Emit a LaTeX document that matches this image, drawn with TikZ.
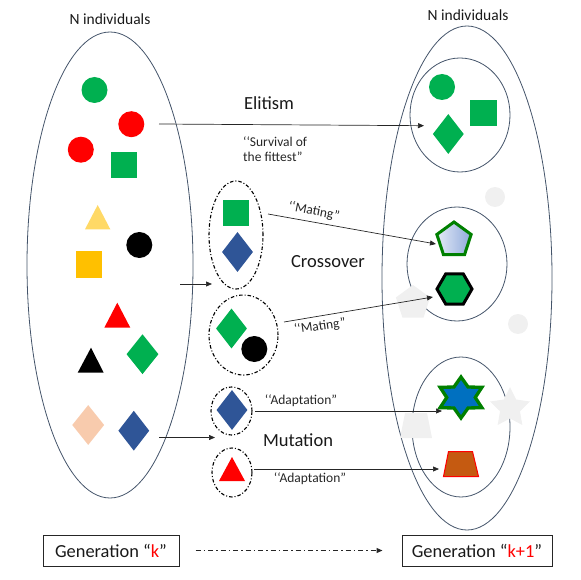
\documentclass[tikz,border=0pt]{standalone}
\usepackage{fontspec}
\setmainfont{Carlito}
\usetikzlibrary{shapes.geometric,arrows.meta}
\definecolor{elc}{HTML}{44546A}
\definecolor{grn}{HTML}{00B050}
\definecolor{dgrn}{HTML}{008000}
\definecolor{bdia}{HTML}{2F5597}
\definecolor{peach}{HTML}{F8CBAD}
\definecolor{yel}{HTML}{FFD966}
\definecolor{ora}{HTML}{FFC000}
\definecolor{ghost}{HTML}{F0F0F0}
\definecolor{sblue}{HTML}{0070C0}
\definecolor{brn}{HTML}{C55A11}
\definecolor{pl}{HTML}{E4EAF6}
\definecolor{pr}{HTML}{8FAADC}
\begin{document}
\begin{tikzpicture}[x=1pt,y=-1pt,
  popell/.style={ellipse, draw=elc, line width=0.8, inner sep=0},
  grp/.style={ellipse, draw=black, line width=1.1, dash pattern=on 3.5pt off 2pt on 1pt off 2pt, inner sep=0},
  circ/.style={circle, inner sep=0, minimum size=26},
  sq/.style={rectangle, inner sep=0, minimum size=26},
  dia/.style={diamond, inner sep=0, minimum width=32, minimum height=40},
  conn/.style={draw=black!85, line width=0.7, -{Triangle[length=6pt,width=5pt]}},
  lab/.style={font=\fontsize{13.5}{14.5}\selectfont, text=black!85, inner sep=0},
  big/.style={font=\fontsize{18.5}{20}\selectfont, text=black!90, inner sep=0},
  hdr/.style={font=\fontsize{15.5}{17}\selectfont, text=black!90, inner sep=0},
  genbox/.style={draw=black!85, line width=1, minimum height=31, inner sep=0, font=\fontsize{18.4}{20}\selectfont, text=black!90},
  genarrow/.style={draw=black!85, line width=1.2, dash pattern=on 5pt off 3pt on 1.5pt off 3pt, -{Triangle[length=6pt,width=5pt]}}
]
\useasboundingbox (0,0) rectangle (581,580);

% population ellipses
\node[popell, minimum width=166, minimum height=466] (popk) at (110,265) {};
\node[popell, minimum width=170, minimum height=504] (popk1) at (467,278) {};
\node[popell, minimum width=100, minimum height=114] (elite) at (460,115) {};
\node[popell, minimum width=100, minimum height=114] (cross) at (457,264) {};
\node[popell, minimum width=98, minimum height=140] (mut) at (461,427) {};

\node[hdr] (hk) at (110,19) {N individuals};
\node[hdr] (hk1) at (468,15) {N individuals};

% left population shapes
\node[circ, fill=grn] (l1) at (94.5,90) {};
\node[circ, fill=red] (l2) at (131.3,124.2) {};
\node[circ, fill=red] (l3) at (80.8,149.7) {};
\node[sq, fill=grn] (l4) at (123.8,164.7) {};
\fill[yel] (85,229.3) -- (97.7,205) -- (110.3,229.3) -- cycle;
\node[circ, fill=black] (l5) at (139.3,245) {};
\node[sq, fill=ora] (l6) at (88.5,264.5) {};
\fill[red] (104.3,327.7) -- (117.3,302.7) -- (130.3,327.7) -- cycle;
\fill[black] (77.7,372.7) -- (91,347.7) -- (103.7,372.7) -- cycle;
\node[dia, fill=grn] (l7) at (142.5,354.2) {};
\node[dia, fill=peach] (l8) at (88.2,425) {};
\node[dia, fill=bdia, minimum width=31] (l9) at (133.8,430.7) {};

% selected groups
\node[grp, minimum width=54, minimum height=108] (g1) at (236,235) {};
\node[grp, minimum width=69, minimum height=80] (g2) at (243.5,335) {};
\node[grp, minimum width=41, minimum height=48] (g3) at (231.5,411) {};
\node[grp, minimum width=40, minimum height=49] (g4) at (232,472.5) {};
\node[sq, fill=grn] (s1) at (236,213.5) {};
\node[dia, fill=bdia, minimum width=31] (s2) at (237.5,252) {};
\node[dia, fill=grn, minimum width=31] (s3) at (231.5,328.5) {};
\node[circ, fill=black] (s4) at (254.3,349) {};
\node[dia, fill=bdia, minimum width=31] (s5) at (232,410) {};
\fill[red] (219,481) -- (232,457) -- (245,481) -- cycle;

% ghost shapes in next generation
\node[circ, fill=ghost, minimum size=20] (x1) at (495,197) {};
\node[circ, fill=ghost, minimum size=20] (x2) at (518,324) {};
\node[regular polygon, regular polygon sides=5, minimum size=36, inner sep=0, fill=ghost] (x3) at (413,303) {};
\node[star, star points=5, star point ratio=2, minimum size=42, inner sep=0, fill=ghost] (x4) at (510,408) {};
\fill[ghost] (400,438) -- (405,413) -- (427,413) -- (432,438) -- cycle;

% next generation shapes
\node[circ, fill=grn] (e1) at (442,87) {};
\node[sq, fill=grn, minimum size=26.5] (e2) at (483.3,112.8) {};
\node[dia, fill=grn, minimum width=31] (e3) at (448.3,134) {};
\node[regular polygon, regular polygon sides=5, minimum size=36, inner sep=0, draw=dgrn, line width=3, left color=pl, right color=pr] (c1) at (454,240) {};
\node[regular polygon, regular polygon sides=6, minimum size=35, inner sep=0, draw=black, line width=3, fill=grn] (c2) at (454.5,289) {};
\begin{scope}[shift={(461,397.5)}, xscale=1.18]
\node[star, star points=6, star point ratio=1.7, minimum size=41, inner sep=0, draw=dgrn, line width=3.3, fill=sblue, transform shape] (m1) at (0,0) {};
\end{scope}
\filldraw[fill=brn, draw=red, line width=1] (443.5,476.5) -- (448.5,451.5) -- (472.5,451.5) -- (478.5,476.5) -- cycle;

% labels
\node[big] (tel) at (269,103) {Elitism};
\node[big] (tcr) at (328,262) {Crossover};
\node[big] (tmu) at (298,440) {Mutation};
\node[lab, align=left, anchor=west] (tsv) at (243,149) {\symbol{96}\symbol{96}Survival of\\the fittest”};
\node[lab, rotate=-11] (tm1) at (314,211.5) {\symbol{96}\symbol{96}Mating”};
\node[lab, rotate=8] (tm2) at (320,326.5) {\symbol{96}\symbol{96}Mating”};
\node[lab] (ta1) at (301,401) {\symbol{96}\symbol{96}Adaptation”};
\node[lab] (ta2) at (310,479) {\symbol{96}\symbol{96}Adaptation”};

% connectors
\coordinate (el0) at (159,124);
\coordinate (el1) at (424,125.7);
\draw[conn] (el0) -- (el1);
\coordinate (cx0) at (180,284);
\coordinate (cx1) at (212,284);
\draw[conn] (cx0) -- (cx1);
\coordinate (mx0) at (159,437.5);
\coordinate (mx1) at (215,437.5);
\draw[conn] (mx0) -- (mx1);
\coordinate (ma0) at (268,214);
\coordinate (ma1) at (436,244);
\draw[conn] (ma0) -- (ma1);
\coordinate (mb0) at (284,322);
\coordinate (mb1) at (433,297);
\draw[conn] (mb0) -- (mb1);
\coordinate (ad0) at (255,411);
\coordinate (ad1) at (442,411);
\draw[conn] (ad0) -- (ad1);
\coordinate (ae0) at (254,469);
\coordinate (ae1) at (439,469);
\draw[conn] (ae0) -- (ae1);

% generation boxes
\node[genbox, minimum width=136] (gk) at (111,550.5) {Generation “\textcolor{red}{k}”};
\node[genbox, minimum width=150] (gk1) at (477,550.5) {Generation “\textcolor{red}{k+1}”};
\draw[genarrow, shorten <=16pt, shorten >=19pt] (gk.east) -- (gk1.west);
\end{tikzpicture}
\end{document}
